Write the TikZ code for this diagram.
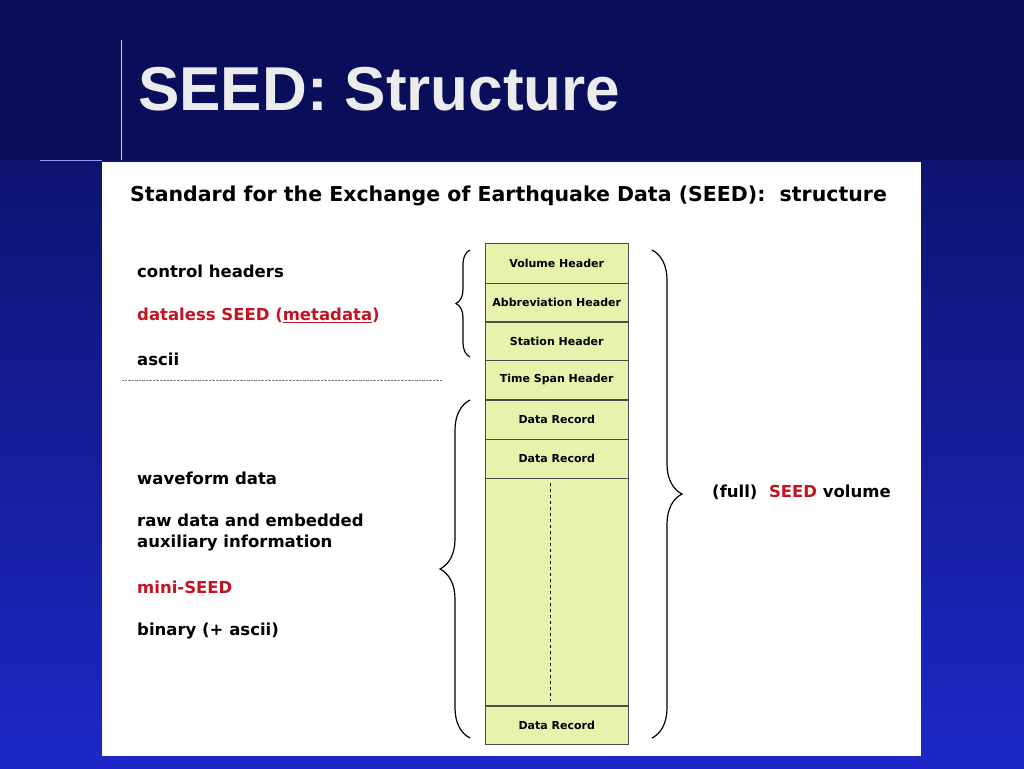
\documentclass[tikz,border=0pt]{standalone}
\usepackage{fontspec}
\setmainfont{DejaVu Sans}
\newfontfamily\titlefont{Liberation Sans}
\usetikzlibrary{positioning,decorations.pathreplacing}
\definecolor{navy1}{RGB}{10,14,90}
\definecolor{blue1}{RGB}{30,40,200}
\definecolor{red1}{RGB}{195,20,35}
\definecolor{cell1}{RGB}{232,242,172}
\tikzstyle{cell} = [draw=black!70, fill=cell1, minimum width=143pt, inner sep=0pt, font=\fontsize{11}{13}\selectfont\bfseries]
\tikzstyle{item} = [anchor=west, align=left, font=\fontsize{16.5}{21}\selectfont\bfseries, inner sep=0pt]
\tikzstyle{brace} = [draw, line width=1.2pt, decorate, decoration={brace, amplitude=14pt}]
\begin{document}
\begin{tikzpicture}[x=1pt, y=-1pt]
	\useasboundingbox (0,0) rectangle (1024,768);
	\shade[top color=navy1, bottom color=blue1] (0,0) rectangle (1024,768);
	\fill[navy1] (0,0) rectangle (1024,160);
	\draw[white!80!blue, line width=1pt] (121,40) -- (121,160);
	\draw[white!60!blue, line width=0.6pt] (40,160) -- (102,160);
	\fill[white] (102,162) rectangle (921,756);
	\node[anchor=base west, text=white!85!gray, inner sep=0pt, font=\fontsize{62}{70}\selectfont\titlefont\bfseries] (title) at (138,110) {SEED: Structure};

	\node[anchor=base west, inner sep=0pt, font=\fontsize{20.5}{24}\selectfont\bfseries] (heading) at (130,201) {Standard for the Exchange of Earthquake Data (SEED):\ \ structure};

	% cells
	\node[cell, minimum height=40pt, anchor=north west] (volume) at (485,243) {Volume Header};
	\node[cell, minimum height=38pt, below=0pt of volume] (abbrev) {Abbreviation Header};
	\node[cell, minimum height=38pt, below=0pt of abbrev] (station) {Station Header};
	\node[cell, minimum height=39pt, below=0pt of station] (timespan) {Time Span Header};
	\node[cell, minimum height=39pt, below=0pt of timespan] (data1) {Data Record};
	\node[cell, minimum height=39pt, below=0pt of data1] (data2) {Data Record};
	\node[cell, minimum height=227pt, below=0pt of data2] (gap) {};
	\node[cell, minimum height=38pt, below=0pt of gap] (data3) {Data Record};
	\draw[dashed, thick] ([xshift=-6pt, yshift=-5pt] gap.north) -- ([xshift=-6pt, yshift=5pt] gap.south);

	% left texts
	\node[item] (control) at (137,271) {control headers};
	\node[item, text=red1] (dataless) at (137,315) {dataless SEED (\underline{metadata})};
	\node[item] (ascii) at (137,359) {ascii};
	\draw[densely dotted, gray] (122,380) -- (442,380);
	\node[item] (waveform) at (137,478) {waveform data};
	\node[item] (raw) at (137,533) {raw data and embedded\\auxiliary information};
	\node[item, text=red1] (mini) at (137,587) {mini-SEED};
	\node[item] (binary) at (137,631) {binary (+ ascii)};

	% braces
	\coordinate (b1top) at (470,250);
	\coordinate (b1bot) at (470,357);
	\coordinate (b2top) at (470,400);
	\coordinate (b2bot) at (470,738);
	\coordinate (b3top) at (652,250);
	\coordinate (b3bot) at (652,738);
	\draw[brace] (b1bot) -- (b1top);
	\draw[brace, decoration={amplitude=30pt}] (b2bot) -- (b2top);
	\draw[brace, decoration={amplitude=30pt}] (b3top) -- (b3bot);
	\node[item] (full) at (712,492) {(full)\ \ \textcolor{red1}{SEED} volume};
\end{tikzpicture}
\end{document}
